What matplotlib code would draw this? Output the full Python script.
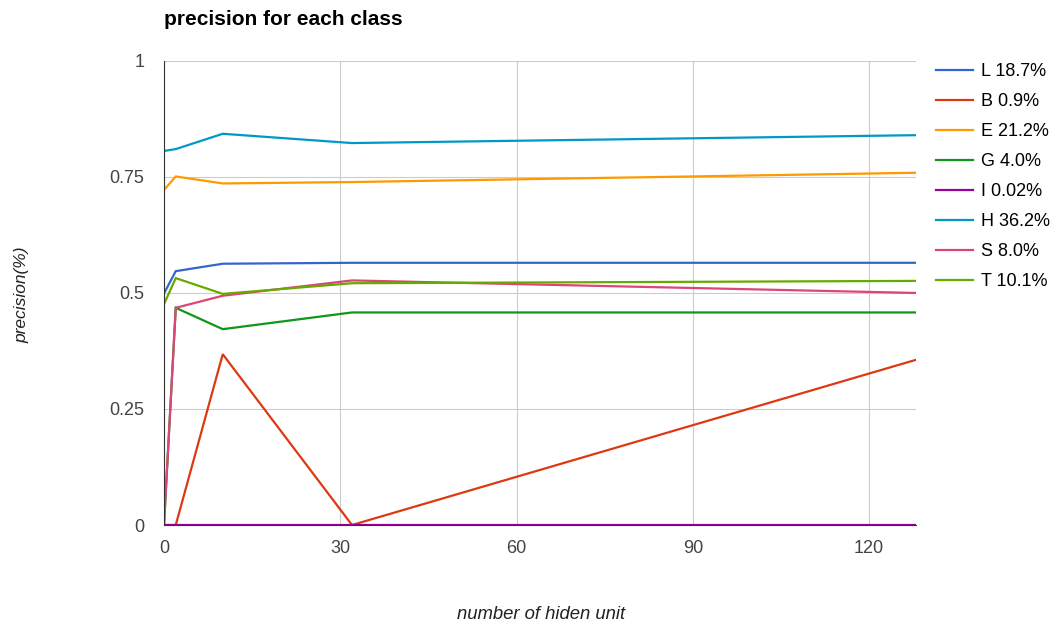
import matplotlib.pyplot as plt

hidden_units = [0, 2, 10, 32, 128]

labels = ["L 18.7%", "B 0.9%", "E 21.2%", "G 4.0%", "I 0.02%", "H 36.2%", "S 8.0%", "T 10.1%"]
colors = ["#3366cc", "#dc3912", "#ff9900", "#109618", "#990099", "#0099c6", "#dd4477", "#66aa00"]

prec_L = [0.499, 0.547, 0.563, 0.565, 0.565]
prec_B = [0.0, 0.0, 0.368, 0.0, 0.356]
prec_E = [0.722, 0.751, 0.736, 0.739, 0.759]
prec_G = [0.0, 0.468, 0.422, 0.458, 0.458]
prec_I = [0.0, 0.0, 0.0, 0.0, 0.0]
prec_H = [0.806, 0.810, 0.843, 0.823, 0.840]
prec_S = [0.0, 0.468, 0.494, 0.527, 0.500]
prec_T = [0.476, 0.532, 0.498, 0.521, 0.526]

series = [prec_L, prec_B, prec_E, prec_G, prec_I, prec_H, prec_S, prec_T]

plt.rcParams["font.family"] = ["Liberation Sans", "DejaVu Sans"]

fig = plt.figure(figsize=(10.54, 6.28), dpi=100)
ax = fig.add_axes([0.1556, 0.164, 0.7135, 0.739])

for vals, lab, col in zip(series, labels, colors):
    ax.plot(hidden_units, vals, color=col, lw=1.6, label=lab, solid_joinstyle="miter")

ax.set_xlim(0, 128)
ax.set_ylim(0, 1)
ax.set_xticks([0, 30, 60, 90, 120])
ax.set_yticks([0, 0.25, 0.5, 0.75, 1])
ax.set_yticklabels(["0", "0.25", "0.5", "0.75", "1"])
ax.tick_params(length=0, labelsize=13, colors="#444444")
ax.tick_params(axis="y", pad=14)
ax.tick_params(axis="x", pad=11)
ax.grid(True, color="#cccccc", lw=0.8)
ax.set_axisbelow(True)

for side in ["top", "right"]:
    ax.spines[side].set_visible(False)
ax.spines["left"].set_color("#333333")
ax.spines["bottom"].set_color("#333333")

fig.text(0.1556, 0.969, "precision for each class", fontsize=15, fontweight="bold", ha="left", va="center")
fig.text(0.513, 0.022, "number of hiden unit", fontsize=13.3, style="italic", ha="center", va="center", color="#222222")
fig.text(0.021, 0.53, "precision(%)", fontsize=12.5, style="italic", rotation=90, ha="center", va="center", color="#222222")

fig.legend(loc="upper left", bbox_to_anchor=(0.881, 0.911), frameon=False, fontsize=13,
           handlelength=2.05, handletextpad=0.45, labelspacing=0.72, borderaxespad=0)

fig.savefig("out.png", dpi=100)
